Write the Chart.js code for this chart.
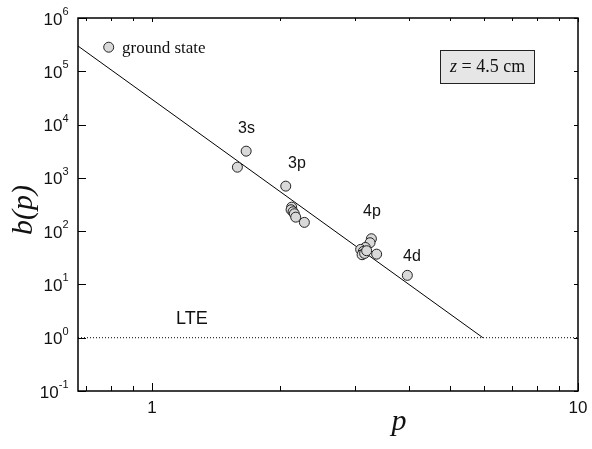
<!DOCTYPE html>
<html>
<head>
<meta charset="utf-8">
<script src="https://cdn.jsdelivr.net/npm/chart.js@4"></script>
<style>
html,body{margin:0;padding:0;background:#fff;}
canvas{display:block;}
</style>
</head>
<body>
<canvas id="c" width="592" height="449"></canvas>
<script>
// ---- data ----
const levelP = [0.791, 1.586, 1.663, 2.06, 2.127, 2.120, 2.143, 2.158, 2.174, 2.278,
                3.273, 3.249, 3.167, 3.088, 3.133, 3.112, 3.155, 3.367, 3.19, 3.975];
const levelB = [2.83e5, 1586, 3170, 699, 282, 252, 231, 212, 183, 146,
                72, 60.6, 49.4, 45.4, 41.6, 36.1, 38.2, 37.0, 42.9, 14.8];
const fitP = [0.67, 5.98];
const fitB = [2.98e5, 1];
const lteP = [0.67, 10];
const lteB = [1, 1];
const xMajorTicks = [1, 10];
const xMinorTicks = [0.7, 0.8, 0.9, 2, 3, 4, 5, 6, 7, 8, 9];
const yTickExponents = [-1, 0, 1, 2, 3, 4, 5, 6];
const levelLabels = ['3s', '3p', '4p', '4d'];

const SANS = '"Liberation Sans", Arial, sans-serif';
const SERIF = '"Liberation Serif", "Times New Roman", serif';

const decor = {
  id: 'decor',
  afterDraw(chart) {
    const ctx = chart.ctx;
    const a = chart.chartArea;
    const xs = chart.scales.x, ys = chart.scales.y;
    ctx.save();
    // frame
    ctx.strokeStyle = '#000';
    ctx.lineWidth = 1.5;
    ctx.strokeRect(a.left, a.top, a.right - a.left, a.bottom - a.top);
    ctx.lineWidth = 1;
    ctx.beginPath();
    // x ticks
    xMajorTicks.forEach(v => {
      const px = Math.round(xs.getPixelForValue(v)) + 0.5;
      ctx.moveTo(px, a.bottom); ctx.lineTo(px, a.bottom - 8);
      ctx.moveTo(px, a.top); ctx.lineTo(px, a.top + 4);
    });
    xMinorTicks.forEach(v => {
      const px = Math.round(xs.getPixelForValue(v)) + 0.5;
      ctx.moveTo(px, a.bottom); ctx.lineTo(px, a.bottom - 5);
      ctx.moveTo(px, a.top); ctx.lineTo(px, a.top + 3);
    });
    // y ticks
    yTickExponents.forEach(e => {
      const py = Math.round(ys.getPixelForValue(Math.pow(10, e))) + 0.5;
      ctx.moveTo(a.left, py); ctx.lineTo(a.left + 8, py);
      ctx.moveTo(a.right, py); ctx.lineTo(a.right - 4, py);
    });
    ctx.stroke();

    ctx.fillStyle = '#111';
    // x tick labels
    ctx.font = '17px ' + SANS;
    ctx.textAlign = 'center';
    ctx.textBaseline = 'alphabetic';
    xMajorTicks.forEach(v => {
      ctx.fillText(String(v), xs.getPixelForValue(v), a.bottom + 22);
    });
    // y tick labels: 10 with superscript exponent
    yTickExponents.forEach(e => {
      const py = ys.getPixelForValue(Math.pow(10, e));
      const expStr = e < 0 ? '-' + Math.abs(e) : String(e);
      ctx.font = '11px ' + SANS;
      ctx.textAlign = 'right';
      const expRight = a.left - 9.5;
      ctx.fillText(expStr, expRight, py - 3);
      const ew = ctx.measureText(expStr).width;
      ctx.font = '17px ' + SANS;
      ctx.fillText('10', expRight - ew, py + 6.5);
    });

    // axis titles
    ctx.font = 'italic 30px ' + SERIF;
    ctx.textAlign = 'center';
    ctx.fillText('p', (a.left + a.right) / 2 + 71, 430);
    ctx.save();
    ctx.translate(32, 210);
    ctx.rotate(-Math.PI / 2);
    ctx.fillText('b(p)', 0, 0);
    ctx.restore();

    // level labels
    ctx.font = '16px ' + SANS;
    ctx.textAlign = 'left';
    const lpos = [[238, 133], [288, 168], [363, 216], [403, 261]];
    levelLabels.forEach((t, i) => ctx.fillText(t, lpos[i][0], lpos[i][1]));
    ctx.font = '18px ' + SANS;
    ctx.fillText('LTE', 176, 323.5);

    // ground state label
    ctx.font = '17px ' + SERIF;
    ctx.fillText('ground state', 122, 52.5);

    // z box
    ctx.fillStyle = '#e6e6e6';
    ctx.fillRect(440, 50.5, 94, 33);
    ctx.strokeStyle = '#222';
    ctx.lineWidth = 1;
    ctx.strokeRect(440.5, 50.5, 94, 33);
    ctx.fillStyle = '#111';
    ctx.font = 'italic 18px ' + SERIF;
    ctx.textAlign = 'left';
    let x0 = 450;
    ctx.fillText('z', x0, 71.5);
    x0 += ctx.measureText('z').width;
    ctx.font = '18px ' + SERIF;
    ctx.fillText(' = 4.5 cm', x0, 71.5);
    ctx.restore();
  }
};

new Chart(document.getElementById('c'), {
  type: 'scatter',
  data: {
    datasets: [
      {
        label: 'levels',
        data: levelP.map((p, i) => ({ x: p, y: levelB[i] })),
        pointRadius: 5,
        pointBackgroundColor: '#d9d9d9',
        pointBorderColor: '#222',
        pointBorderWidth: 1,
        showLine: false,
        order: 0
      },
      {
        label: 'fit',
        data: fitP.map((p, i) => ({ x: p, y: fitB[i] })),
        showLine: true,
        pointRadius: 0,
        borderColor: '#000',
        borderWidth: 1,
        order: 1
      },
      {
        label: 'LTE',
        data: lteP.map((p, i) => ({ x: p, y: lteB[i] })),
        showLine: true,
        pointRadius: 0,
        borderColor: '#000',
        borderWidth: 1,
        borderDash: [1, 2],
        order: 2
      }
    ]
  },
  options: {
    responsive: false,
    devicePixelRatio: 1,
    animation: false,
    layout: { padding: { left: 78, top: 18, right: 14, bottom: 58 } },
    scales: {
      x: { type: 'logarithmic', min: 0.67, max: 10, display: false },
      y: { type: 'logarithmic', min: 0.1, max: 1e6, display: false }
    },
    plugins: { legend: { display: false }, tooltip: { enabled: false } }
  },
  plugins: [decor]
});
</script>
</body>
</html>
